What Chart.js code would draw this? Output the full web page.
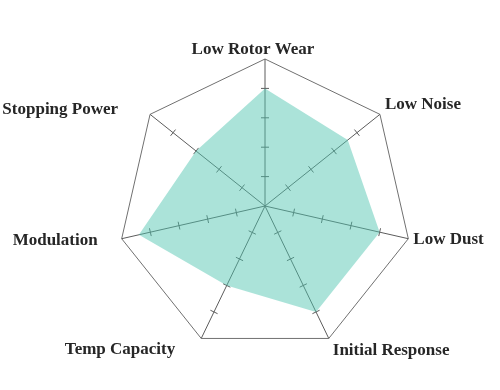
<!DOCTYPE html>
<html>
<head>
<meta charset="utf-8">
<script src="https://cdn.jsdelivr.net/npm/chart.js@4.4.0/dist/chart.umd.min.js"></script>
<style>
  html, body { margin: 0; padding: 0; background: #fff; }
  #wrap { width: 500px; height: 390px; }
</style>
</head>
<body>
<div id="wrap"><canvas id="radar" width="500" height="390"></canvas></div>
<script>
// Datos
const categorias = ['Low Rotor Wear', 'Low Noise', 'Low Dust', 'Initial Response', 'Temp Capacity', 'Modulation', 'Stopping Power'];
const valores = [4, 3.6, 4, 4, 3, 4.4, 3];
const marcasEje = [1, 2, 3, 4];
const escalaMax = 5;

// desplazamiento de cada etiqueta respecto a su vertice: [dx, dy (linea base), alineacion]
const posEtiquetas = [
  [-12, -5, 'center'],
  [5, -5, 'left'],
  [5, 5, 'left'],
  [4, 17, 'left'],
  [-26, 16, 'right'],
  [-24, 6, 'right'],
  [-32, 0, 'right']
];

const colorEje = '#5c5c5c';
const colorBorde = '#707070';

// marcas pequeñas perpendiculares en cada eje
const marcasPlugin = {
  id: 'marcas',
  beforeDatasetsDraw(chart) {
    const r = chart.scales.r;
    const ctx = chart.ctx;
    ctx.save();
    ctx.strokeStyle = colorEje;
    ctx.lineWidth = 1;
    categorias.forEach((c, i) => {
      const ang = r.getIndexAngle(i) - Math.PI / 2;
      const px = -Math.sin(ang) * 4;
      const py = Math.cos(ang) * 4;
      marcasEje.forEach(v => {
        const p = r.getPointPositionForValue(i, v);
        ctx.beginPath();
        ctx.moveTo(p.x - px, p.y - py);
        ctx.lineTo(p.x + px, p.y + py);
        ctx.stroke();
      });
    });
    ctx.restore();
  }
};

// etiquetas de los ejes
const etiquetasPlugin = {
  id: 'etiquetas',
  afterDraw(chart) {
    const r = chart.scales.r;
    const ctx = chart.ctx;
    ctx.save();
    ctx.font = 'bold 17px "Liberation Serif", "Times New Roman", serif';
    ctx.fillStyle = '#262626';
    ctx.textBaseline = 'alphabetic';
    categorias.forEach((c, i) => {
      const p = r.getPointPositionForValue(i, escalaMax);
      const [dx, dy, al] = posEtiquetas[i];
      ctx.textAlign = al;
      ctx.fillText(c, p.x + dx, p.y + dy);
    });
    ctx.restore();
  }
};

const ctx = document.getElementById('radar').getContext('2d');
const chartRadar = new Chart(ctx, {
  type: 'radar',
  data: {
    labels: categorias,
    datasets: [{
      data: valores,
      backgroundColor: 'rgba(80,196,176,0.48)',
      borderWidth: 0,
      pointRadius: 0,
      fill: true,
      tension: 0
    }]
  },
  options: {
    responsive: false,
    animation: false,
    devicePixelRatio: 1,
    layout: { padding: { left: 115, right: 85, top: 59, bottom: 37 } },
    scales: {
      r: {
        min: 0,
        max: escalaMax,
        ticks: { display: false, stepSize: 1 },
        pointLabels: { display: false },
        grid: {
          color: c => (c.tick && c.tick.value === escalaMax) ? colorBorde : 'rgba(0,0,0,0)',
          lineWidth: 1
        },
        angleLines: { color: colorEje, lineWidth: 1 }
      }
    },
    plugins: {
      legend: { display: false },
      tooltip: { enabled: false }
    }
  },
  plugins: [marcasPlugin, etiquetasPlugin]
});
</script>
</body>
</html>
